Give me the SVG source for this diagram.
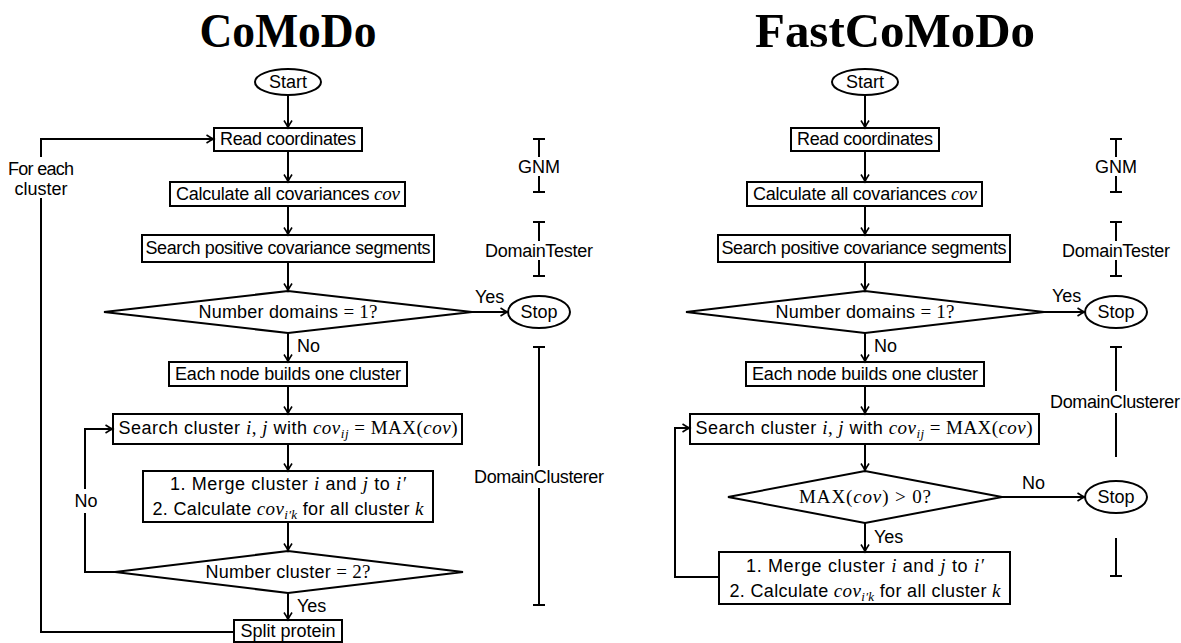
<svg xmlns="http://www.w3.org/2000/svg" width="1181" height="643" viewBox="0 0 1181 643">
<defs>
<style>
.ln{stroke:#000;stroke-width:2;fill:none}
.box{fill:#fff;stroke:#000;stroke-width:2}
.t{font-family:"Liberation Sans",Arial,sans-serif;font-size:18px;fill:#000}
.c{text-anchor:middle}
.m{font-family:"Liberation Serif","Times New Roman",serif;font-style:italic;font-size:19px}
.r{font-family:"Liberation Serif","Times New Roman",serif;font-style:normal;font-size:19px}
.sub{font-family:"Liberation Serif","Times New Roman",serif;font-style:italic;font-size:13px}
.title{font-family:"Liberation Serif","Times New Roman",serif;font-weight:bold;font-size:48px;text-anchor:middle;fill:#000}
</style>
<marker id="arr" viewBox="-8 -5 10 10" refX="0.5" refY="0" markerWidth="10" markerHeight="10" markerUnits="userSpaceOnUse" orient="auto">
<path d="M-7,-4 Q-2.5,-1 0,0 Q-2.5,1 -7,4" fill="none" stroke="#000" stroke-width="1.6"/>
</marker>
</defs>
<rect width="1181" height="643" fill="#fff"/>

<text class="title" x="288" y="47" textLength="177" lengthAdjust="spacingAndGlyphs">CoMoDo</text>
<text class="title" x="895" y="47" textLength="280" lengthAdjust="spacingAndGlyphs">FastCoMoDo</text>

<!-- ===== Left diagram: CoMoDo ===== -->
<g id="L-start"><ellipse class="box" cx="288" cy="82" rx="33" ry="13"/><text class="t c" x="288" y="88">Start</text></g>
<g id="L-read"><rect class="box" x="214" y="128" width="148" height="23"/><text class="t c" x="288" y="145" textLength="136" lengthAdjust="spacing">Read coordinates</text></g>
<g id="L-calc"><rect class="box" x="170" y="182" width="235" height="24"/><text class="t c" x="288" y="200" textLength="224" lengthAdjust="spacing">Calculate all covariances <tspan class="m">cov</tspan></text></g>
<g id="L-search"><rect class="box" x="142" y="235" width="292" height="27"/><text class="t c" x="288" y="254" textLength="285" lengthAdjust="spacing">Search positive covariance segments</text></g>
<g id="L-dec1"><polygon class="box" points="104,312 288,291 472,312 288,333"/><text class="t c" x="288" y="318" textLength="179" lengthAdjust="spacing">Number domains <tspan class="r">= 1?</tspan></text></g>
<g id="L-stop"><ellipse class="box" cx="539" cy="312" rx="31" ry="16"/><text class="t c" x="539" y="318">Stop</text></g>
<g id="L-each"><rect class="box" x="169" y="362" width="238" height="24"/><text class="t c" x="288" y="380" textLength="226" lengthAdjust="spacing">Each node builds one cluster</text></g>
<g id="L-scl"><rect class="box" x="113" y="414" width="349" height="30"/><text class="t c" x="288" y="434" textLength="339" lengthAdjust="spacing">Search cluster <tspan class="m">i</tspan><tspan class="r">, </tspan><tspan class="m">j</tspan> with <tspan class="m">cov</tspan><tspan class="sub" dy="4">ij</tspan><tspan class="r" dy="-4"> = MAX(</tspan><tspan class="m">cov</tspan><tspan class="r">)</tspan></text></g>
<g id="L-merge"><rect class="box" x="143" y="471" width="290" height="51"/>
<text class="t c" x="288" y="490" textLength="236" lengthAdjust="spacing">1. Merge cluster <tspan class="m">i</tspan> and <tspan class="m">j</tspan> to <tspan class="m">i′</tspan></text>
<text class="t c" x="288" y="515" textLength="271" lengthAdjust="spacing">2. Calculate <tspan class="m">cov</tspan><tspan class="sub" dy="4">i′k</tspan><tspan dy="-4"> for all cluster </tspan><tspan class="m">k</tspan></text></g>
<g id="L-dec2"><polygon class="box" points="115,572 288,551 463,572 288,593"/><text class="t c" x="288" y="578" textLength="165" lengthAdjust="spacing">Number cluster <tspan class="r">= 2?</tspan></text></g>
<g id="L-split"><rect class="box" x="234" y="620" width="108" height="22"/><text class="t c" x="288" y="637">Split protein</text></g>
<g id="L-brackets">
<path class="ln" d="M533,139 H545 M539,139 V157 M539,176 V192 M533,192 H545"/>
<text class="t c" x="539" y="173">GNM</text>
<path class="ln" d="M533,222 H545 M539,222 V241 M539,260 V276 M533,276 H545"/>
<text class="t c" x="539" y="257" textLength="108" lengthAdjust="spacing">DomainTester</text>
<path class="ln" d="M533,347 H545 M539,347 V466 M539,488 V605 M533,605 H545"/>
<text class="t c" x="539" y="483" textLength="130" lengthAdjust="spacing">DomainClusterer</text>
</g>
<g id="L-connectors">
<path class="ln" marker-end="url(#arr)" d="M288,95 V128"/>
<path class="ln" marker-end="url(#arr)" d="M288,151 V182"/>
<path class="ln" marker-end="url(#arr)" d="M288,206 V235"/>
<path class="ln" marker-end="url(#arr)" d="M288,262 V291"/>
<path class="ln" marker-end="url(#arr)" d="M288,333 V362"/>
<path class="ln" marker-end="url(#arr)" d="M288,386 V414"/>
<path class="ln" marker-end="url(#arr)" d="M288,444 V471"/>
<path class="ln" marker-end="url(#arr)" d="M288,522 V551"/>
<path class="ln" marker-end="url(#arr)" d="M288,593 V620"/>
<path class="ln" marker-end="url(#arr)" d="M472,312 H508"/>
<path class="ln" marker-end="url(#arr)" d="M115,572 H85 V513 M85,489 V429 H113"/>
<path class="ln" marker-end="url(#arr)" d="M234,632 H41 V198 M41,157 V139 H214"/>
<text class="t" x="297" y="352">No</text>
<text class="t" x="297" y="612">Yes</text>
<text class="t" x="475" y="303">Yes</text>
<text class="t c" x="86" y="507">No</text>
<text class="t c" x="41" y="175" textLength="66" lengthAdjust="spacing">For each</text>
<text class="t c" x="41" y="195">cluster</text>
</g>

<!-- ===== Right diagram: FastCoMoDo ===== -->
<g id="R-start"><ellipse class="box" cx="865" cy="82" rx="33" ry="13"/><text class="t c" x="865" y="88">Start</text></g>
<g id="R-read"><rect class="box" x="791" y="128" width="148" height="23"/><text class="t c" x="865" y="145" textLength="136" lengthAdjust="spacing">Read coordinates</text></g>
<g id="R-calc"><rect class="box" x="747" y="182" width="235" height="24"/><text class="t c" x="865" y="200" textLength="224" lengthAdjust="spacing">Calculate all covariances <tspan class="m">cov</tspan></text></g>
<g id="R-search"><rect class="box" x="718" y="235" width="292" height="27"/><text class="t c" x="864" y="254" textLength="285" lengthAdjust="spacing">Search positive covariance segments</text></g>
<g id="R-dec1"><polygon class="box" points="686,312 865,291 1044,312 865,333"/><text class="t c" x="865" y="318" textLength="179" lengthAdjust="spacing">Number domains <tspan class="r">= 1?</tspan></text></g>
<g id="R-stop1"><ellipse class="box" cx="1116" cy="312" rx="31" ry="16"/><text class="t c" x="1116" y="318">Stop</text></g>
<g id="R-each"><rect class="box" x="746" y="362" width="238" height="24"/><text class="t c" x="865" y="380" textLength="226" lengthAdjust="spacing">Each node builds one cluster</text></g>
<g id="R-scl"><rect class="box" x="690" y="414" width="349" height="30"/><text class="t c" x="864" y="434" textLength="337" lengthAdjust="spacing">Search cluster <tspan class="m">i</tspan><tspan class="r">, </tspan><tspan class="m">j</tspan> with <tspan class="m">cov</tspan><tspan class="sub" dy="4">ij</tspan><tspan class="r" dy="-4"> = MAX(</tspan><tspan class="m">cov</tspan><tspan class="r">)</tspan></text></g>
<g id="R-decmax"><polygon class="box" points="728,497 865,471 1002,497 865,523"/><text class="r c" x="865" y="503" textLength="132" lengthAdjust="spacing">MAX(<tspan class="m">cov</tspan>) &gt; 0?</text></g>
<g id="R-stop2"><ellipse class="box" cx="1116" cy="497" rx="31" ry="16"/><text class="t c" x="1116" y="503">Stop</text></g>
<g id="R-merge"><rect class="box" x="719" y="552" width="291" height="52"/>
<text class="t c" x="865" y="572" textLength="238" lengthAdjust="spacing">1. Merge cluster <tspan class="m">i</tspan> and <tspan class="m">j</tspan> to <tspan class="m">i′</tspan></text>
<text class="t c" x="865" y="597" textLength="271" lengthAdjust="spacing">2. Calculate <tspan class="m">cov</tspan><tspan class="sub" dy="4">i′k</tspan><tspan dy="-4"> for all cluster </tspan><tspan class="m">k</tspan></text></g>
<g id="R-brackets">
<path class="ln" d="M1110,139 H1122 M1116,139 V157 M1116,176 V192 M1110,192 H1122"/>
<text class="t c" x="1116" y="173">GNM</text>
<path class="ln" d="M1110,222 H1122 M1116,222 V241 M1116,260 V276 M1110,276 H1122"/>
<text class="t c" x="1116" y="257" textLength="108" lengthAdjust="spacing">DomainTester</text>
<path class="ln" d="M1110,347 H1122 M1116,347 V391 M1116,413 V457 M1116,538 V576 M1110,576 H1122"/>
<text class="t c" x="1115" y="408" textLength="130" lengthAdjust="spacing">DomainClusterer</text>
</g>
<g id="R-connectors">
<path class="ln" marker-end="url(#arr)" d="M865,95 V128"/>
<path class="ln" marker-end="url(#arr)" d="M865,151 V182"/>
<path class="ln" marker-end="url(#arr)" d="M865,206 V235"/>
<path class="ln" marker-end="url(#arr)" d="M865,262 V291"/>
<path class="ln" marker-end="url(#arr)" d="M865,333 V362"/>
<path class="ln" marker-end="url(#arr)" d="M865,386 V414"/>
<path class="ln" marker-end="url(#arr)" d="M865,444 V471"/>
<path class="ln" marker-end="url(#arr)" d="M865,523 V552"/>
<path class="ln" marker-end="url(#arr)" d="M1044,312 H1085"/>
<path class="ln" marker-end="url(#arr)" d="M1002,497 H1085"/>
<path class="ln" marker-end="url(#arr)" d="M719,577 H675 V428 H690"/>
<text class="t" x="874" y="352">No</text>
<text class="t" x="874" y="543">Yes</text>
<text class="t" x="1052" y="302">Yes</text>
<text class="t" x="1022" y="489">No</text>
</g>
</svg>
